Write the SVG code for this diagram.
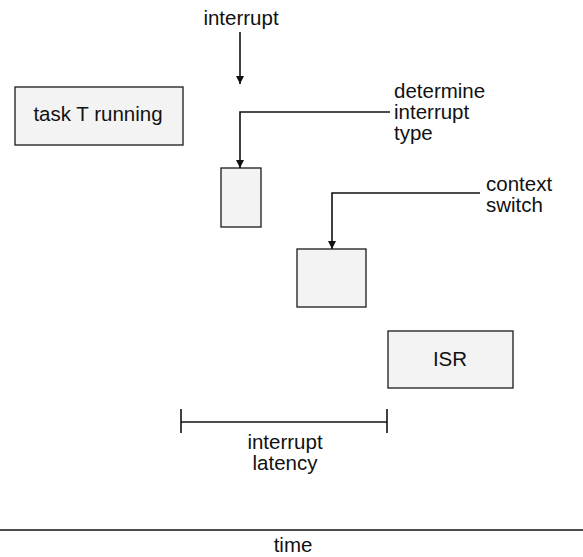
<svg xmlns="http://www.w3.org/2000/svg" width="583" height="557" viewBox="0 0 583 557">
<defs>
<style>
.box{fill:#f3f3f3;stroke:#1a1a1a;stroke-width:1.3}
.t{font-family:"Liberation Sans",Arial,sans-serif;font-size:20.5px;fill:#111}
.ln{fill:none;stroke:#111;stroke-width:1.6}
</style>
<marker id="ah" viewBox="0 0 10 10" refX="10" refY="5" markerWidth="9" markerHeight="8" markerUnits="userSpaceOnUse" orient="auto">
<path d="M0,0 L10,5 L0,10 z" fill="#111"/>
</marker>
</defs>
<rect width="583" height="557" fill="#fff"/>
<g id="task">
<rect class="box" x="15" y="87" width="168" height="58"/>
<text class="t" x="98" y="121" text-anchor="middle">task T running</text>
</g>
<g id="det">
<rect class="box" x="221" y="168" width="40" height="59"/>
</g>
<g id="ctx">
<rect class="box" x="297" y="249" width="69" height="58"/>
</g>
<g id="isr">
<rect class="box" x="388" y="331" width="125" height="57"/>
<text class="t" x="450" y="366" text-anchor="middle">ISR</text>
</g>
<g id="labels">
<text class="t" x="241" y="25" text-anchor="middle">interrupt</text>
<text class="t" x="394" y="98">determine</text>
<text class="t" x="394" y="119">interrupt</text>
<text class="t" x="394" y="140">type</text>
<text class="t" x="486" y="191">context</text>
<text class="t" x="486" y="212">switch</text>
<text class="t" x="285" y="449" text-anchor="middle">interrupt</text>
<text class="t" x="285" y="470" text-anchor="middle">latency</text>
<text class="t" x="293" y="552" text-anchor="middle">time</text>
</g>
<g id="connectors">
<line class="ln" x1="240" y1="32" x2="240" y2="84" marker-end="url(#ah)"/>
<polyline class="ln" points="390,112 240,112 240,168" marker-end="url(#ah)"/>
<polyline class="ln" points="480,193 332,193 332,249" marker-end="url(#ah)"/>
<line class="ln" x1="181" y1="422" x2="387" y2="422" stroke-width="1.3"/>
<line class="ln" x1="181" y1="409" x2="181" y2="433" stroke-width="1.3"/>
<line class="ln" x1="387" y1="409" x2="387" y2="433" stroke-width="1.3"/>
<line class="ln" x1="0" y1="530" x2="583" y2="530" stroke-width="1.8"/>
</g>
</svg>
